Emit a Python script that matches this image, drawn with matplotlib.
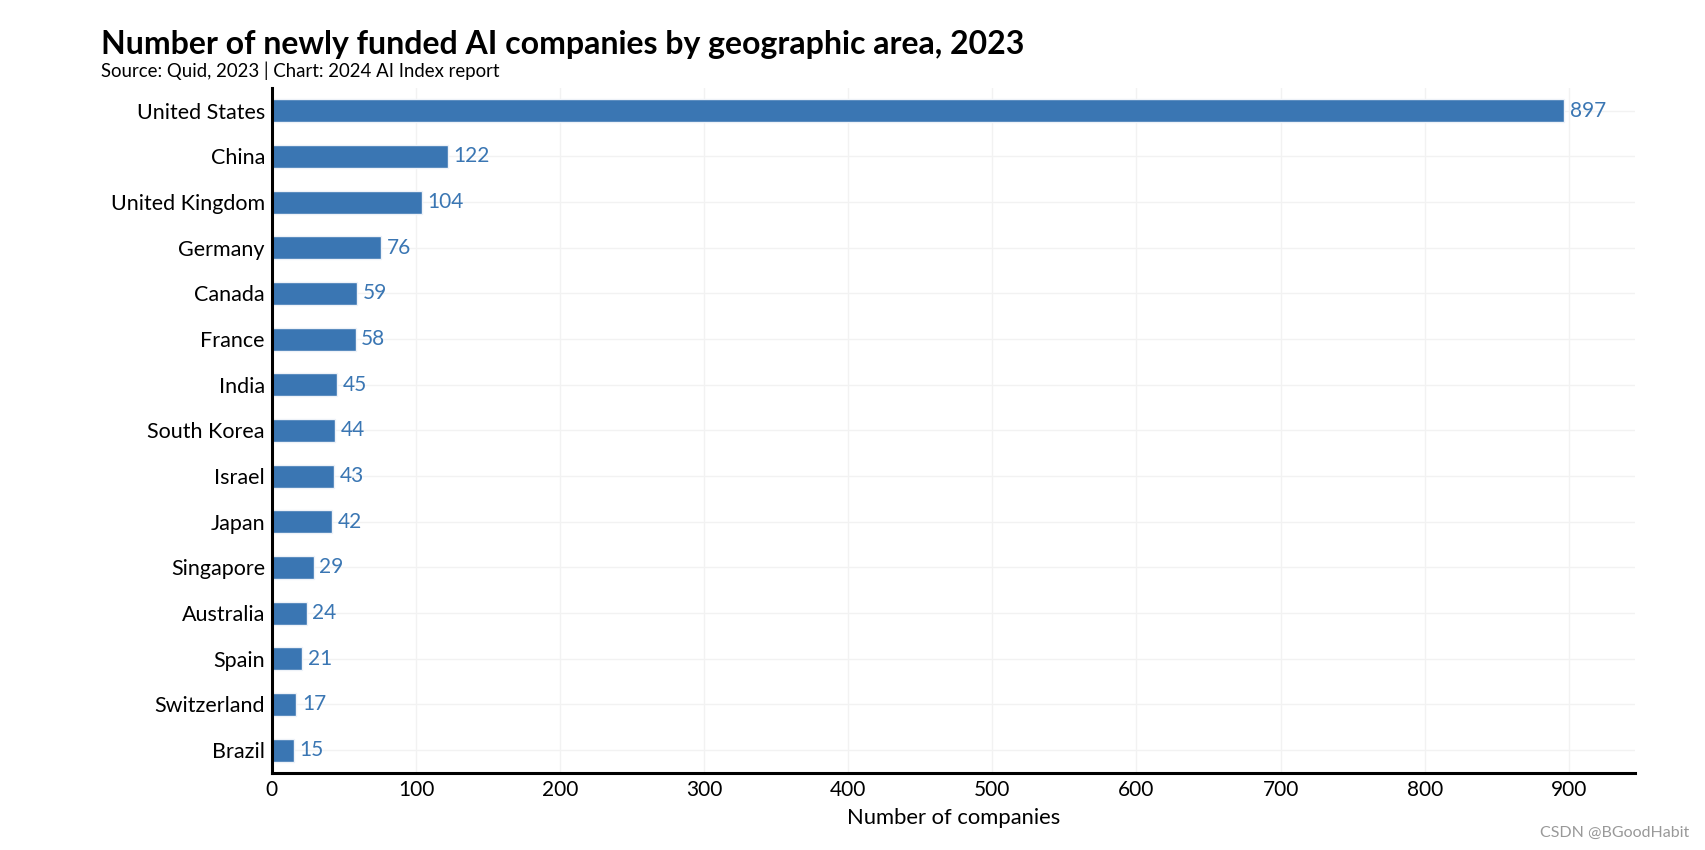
import matplotlib.pyplot as plt
import numpy as np

plt.rcParams['font.family'] = ['Lato', 'DejaVu Sans']

countries = ['United States', 'China', 'United Kingdom', 'Germany', 'Canada',
             'France', 'India', 'South Korea', 'Israel', 'Japan',
             'Singapore', 'Australia', 'Spain', 'Switzerland', 'Brazil']
companies = [897, 122, 104, 76, 59, 58, 45, 44, 43, 42, 29, 24, 21, 17, 15]
x_ticks = [0, 100, 200, 300, 400, 500, 600, 700, 800, 900]

bar_color = '#3a76b3'

fig = plt.figure(figsize=(17.06, 8.5), dpi=100)
ax = fig.add_axes([0.1594, 0.0906, 0.7990, 0.8059])

y = np.arange(len(countries))
ax.barh(y, companies, height=0.5, color=bar_color, edgecolor='#eef2f8', linewidth=1)
for yi, v in zip(y, companies):
    ax.text(v + 4, yi, str(v), va='center', ha='left', fontsize=15, color=bar_color)

ax.set_yticks(y)
ax.set_yticklabels(countries, fontsize=15.5)
ax.set_ylim(len(countries) - 0.5, -0.5)
ax.set_xticks(x_ticks)
ax.set_xticklabels([str(t) for t in x_ticks], fontsize=15)
ax.set_xlim(0, 946)
ax.set_xlabel('Number of companies', fontsize=15.8, labelpad=6)

ax.tick_params(axis='both', length=0, pad=5)
ax.grid(True, color='#f2f2f2', linewidth=1)
ax.set_axisbelow(True)
for s in ['top', 'right']:
    ax.spines[s].set_visible(False)
for s in ['left', 'bottom']:
    ax.spines[s].set_linewidth(2.2)
    ax.spines[s].set_color('black')

fig.text(0.0592, 0.937, 'Number of newly funded AI companies by geographic area, 2023',
         fontsize=23, fontweight='bold', ha='left', va='baseline')
fig.text(0.0592, 0.909, 'Source: Quid, 2023 | Chart: 2024 AI Index report',
         fontsize=13.4, ha='left', va='baseline')
fig.text(0.99, 0.012, 'CSDN @BGoodHabit', fontsize=11.5, color='#999999',
         ha='right', va='bottom')

fig.savefig('out.png', dpi=100)
